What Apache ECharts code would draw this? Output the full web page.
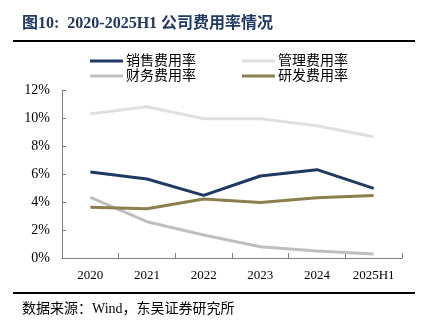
<!DOCTYPE html>
<html><head><meta charset="utf-8">
<script src="https://cdn.jsdelivr.net/npm/echarts@6/dist/echarts.min.js"></script>
<style>html,body{margin:0;padding:0;background:#fff}#c{width:429px;height:330px}</style>
</head><body><div id="c"></div>
<script>
const categories = ['2020','2021','2022','2023','2024','2025H1'];
const sales = [6.14, 5.64, 4.47, 5.86, 6.31, 4.97];
const admin = [10.31, 10.81, 9.95, 9.95, 9.45, 8.66];
const finance = [4.33, 2.59, 1.64, 0.81, 0.50, 0.29];
const rnd = [3.62, 3.52, 4.21, 3.97, 4.31, 4.47];
const yTicks = [0, 2, 4, 6, 8, 10, 12];

const serif = '"Liberation Serif", "Noto Sans CJK SC", serif';
const chart = echarts.init(document.getElementById('c'));
const mk = (name, data, color) => ({
  name, type: 'line', data, symbol: 'none', smooth: false,
  lineStyle: { color, width: 3 }, itemStyle: { color }
});
chart.setOption({
  animation: false,
  graphic: [
    { type: 'text', left: 22, top: 16, style: { text: '图10:  2020-2025H1 公司费用率情况', font: 'bold 16px ' + serif, fill: '#1f3864' } },
    { type: 'rect', shape: { x: 13, y: 40, width: 402, height: 2 }, style: { fill: '#000' } },
    { type: 'rect', shape: { x: 13, y: 292, width: 402, height: 2 }, style: { fill: '#000' } },
    { type: 'text', left: 22, top: 302, style: { text: '数据来源：Wind，东吴证券研究所', font: '14px ' + serif, fill: '#000' } }
  ],
  legend: [
    { data: ['销售费用率', '管理费用率'], left: 85, top: 49, itemWidth: 33, itemHeight: 3, itemGap: 46,
      icon: 'rect', textStyle: { fontFamily: serif, fontSize: 14, color: '#000', padding: [0,0,0,-2] } },
    { data: ['财务费用率', '研发费用率'], left: 85, top: 64, itemWidth: 33, itemHeight: 3, itemGap: 46,
      icon: 'rect', textStyle: { fontFamily: serif, fontSize: 14, color: '#000', padding: [0,0,0,-2] } }
  ],
  grid: { left: 62, right: 27, top: 90, bottom: 72, containLabel: false },
  xAxis: {
    type: 'category', data: categories, boundaryGap: true,
    axisLine: { lineStyle: { color: '#808080', width: 1 } },
    axisTick: { show: true, inside: true, length: 5, lineStyle: { color: '#808080' } },
    axisLabel: { fontFamily: serif, fontSize: 13, color: '#000', margin: 11 }
  },
  yAxis: {
    type: 'value', min: 0, max: 12, interval: 2,
    axisLine: { show: true, lineStyle: { color: '#808080', width: 1 } },
    axisTick: { show: true, inside: true, length: 4, lineStyle: { color: '#808080' } },
    splitLine: { show: false },
    axisLabel: { fontFamily: serif, fontSize: 14, color: '#000', margin: 12,
      formatter: v => yTicks.includes(v) ? v + '%' : '' }
  },
  series: [
    mk('销售费用率', sales, '#1f3864'),
    mk('管理费用率', admin, '#e0e0e0'),
    mk('财务费用率', finance, '#bfbfbf'),
    mk('研发费用率', rnd, '#8c7f4f')
  ]
});
</script></body></html>
